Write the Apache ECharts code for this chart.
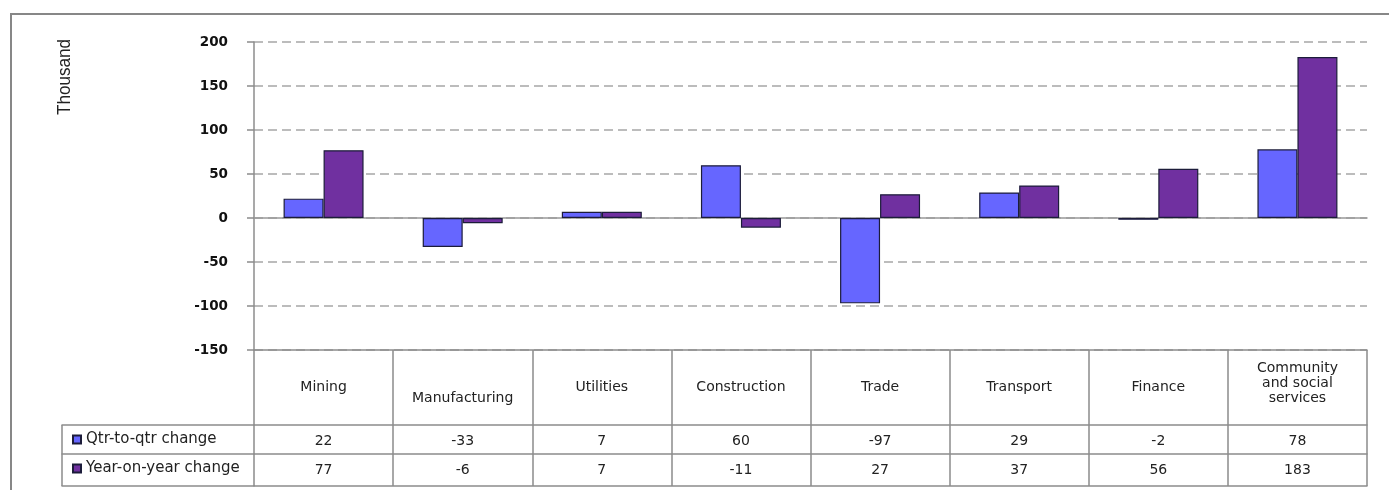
<!DOCTYPE html>
<html><head><meta charset="utf-8">
<script src="https://cdn.jsdelivr.net/npm/echarts@6/dist/echarts.min.js"></script>
<style>html,body{margin:0;padding:0;background:#fff}#c{width:1389px;height:490px}</style>
</head><body><div id="c"></div>
<script>
const categories = ['Mining','Manufacturing','Utilities','Construction','Trade','Transport','Finance','Community\nand social\nservices'];
const qtrChange = [22, -33, 7, 60, -97, 29, -2, 78];
const yearChange = [77, -6, 7, -11, 27, 37, 56, 183];
const seriesNames = ['Qtr-to-qtr change', 'Year-on-year change'];
const yMin = -150, yMax = 200, yStep = 50;
const unitLabel = 'Thousand';

const FONT = '"DejaVu Sans", sans-serif';
const GRAY = '#8c8c8c';
const chart = echarts.init(document.getElementById('c'), null, {renderer: 'canvas'});

const lineOnly = (gridIndex, offset, extra) => Object.assign({
  type: 'category', gridIndex, position: 'bottom', offset,
  data: gridIndex === 0 ? categories : [''],
  axisLine: {show: true, onZero: false, lineStyle: {color: GRAY, width: 1.5}},
  axisTick: {show: false}, axisLabel: {show: false}, splitLine: {show: false}
}, extra || {});

const headerFormatter = v => {
  if (v.indexOf('\n') >= 0) return v;
  if (v === 'Manufacturing') return '{low|' + v + '}';
  return '{one|' + v + '}';
};

const option = {
  animation: false,
  backgroundColor: '#fff',
  graphic: [
    {type: 'rect', shape: {x: 11, y: 14, width: 1420, height: 520}, style: {fill: 'none', stroke: '#878787', lineWidth: 2}, silent: true},
    {type: 'text', x: 65, y: 77, rotation: Math.PI / 2, scaleX: 0.9,
     style: {text: unitLabel, align: 'center', verticalAlign: 'middle', font: '19px "Liberation Sans Narrow", "Liberation Sans", sans-serif', fill: '#222'}}
  ],
  legend: {
    orient: 'vertical', left: 67, top: 426, itemWidth: 8, itemHeight: 8, itemGap: 12,
    icon: 'rect',
    textStyle: {fontFamily: FONT, fontSize: 15, color: '#222', lineHeight: 17},
    data: seriesNames
  },
  grid: [
    {left: 254, right: 22, top: 42, bottom: 140, outerBoundsMode: 'none', containLabel: false},
    {left: 62, width: 192, top: 42, bottom: 140, outerBoundsMode: 'none', containLabel: false}
  ],
  xAxis: [
    {type: 'category', gridIndex: 0, position: 'bottom', data: categories,
     axisLine: {show: true, onZero: true, lineStyle: {color: '#999', width: 1.5}},
     axisTick: {show: false}, axisLabel: {show: false}, splitLine: {show: false}},
    lineOnly(0, 0, {
      axisTick: {show: true, interval: 0, length: 136, lineStyle: {color: GRAY, width: 1.5}},
      axisLabel: {show: true, interval: 0, margin: 33, verticalAlign: 'middle', align: 'center',
        fontFamily: FONT, fontSize: 14, color: '#222', lineHeight: 15,
        formatter: headerFormatter,
        rich: {
          one: {padding: [8, 0, 0, 0], fontFamily: FONT, fontSize: 14, color: '#222'},
          low: {padding: [30, 0, 0, 0], fontFamily: FONT, fontSize: 14, color: '#222'}
        }}
    }),
    lineOnly(0, 75, {
      axisLabel: {show: true, interval: 0, margin: 16, verticalAlign: 'middle', align: 'center',
        fontFamily: FONT, fontSize: 14, color: '#222', formatter: (v, i) => String(qtrChange[i])}
    }),
    lineOnly(0, 104, {
      axisLabel: {show: true, interval: 0, margin: 16, verticalAlign: 'middle', align: 'center',
        fontFamily: FONT, fontSize: 14, color: '#222', formatter: (v, i) => String(yearChange[i])}
    }),
    lineOnly(0, 136),
    lineOnly(1, 75, {axisTick: {show: true, interval: 0, length: 61, lineStyle: {color: GRAY, width: 1.5}}}),
    lineOnly(1, 104),
    lineOnly(1, 136)
  ],
  yAxis: [
    {type: 'value', gridIndex: 0, min: yMin, max: yMax, interval: yStep,
     axisLine: {show: true, lineStyle: {color: GRAY, width: 1.5}},
     axisTick: {show: true, length: 7, lineStyle: {color: GRAY, width: 1.5}},
     axisLabel: {margin: 26, fontFamily: FONT, fontWeight: 'bold', fontSize: 13.5, color: '#111'},
     splitLine: {show: true, lineStyle: {color: '#a6a6a6', width: 1.5, type: [9, 5]}}},
    {type: 'value', gridIndex: 1, min: 0, max: 1, show: false}
  ],
  series: [
    {name: seriesNames[0], type: 'bar', xAxisIndex: 0, yAxisIndex: 0, data: qtrChange,
     barWidth: 40, barGap: '0%',
     itemStyle: {color: '#6666ff', borderColor: '#1c1c3a', borderWidth: 1.2}},
    {name: seriesNames[1], type: 'bar', xAxisIndex: 0, yAxisIndex: 0, data: yearChange,
     barWidth: 40, barGap: '0%',
     itemStyle: {color: '#7030a0', borderColor: '#1c1c3a', borderWidth: 1.2}}
  ]
};
chart.setOption(option);
</script>
</body></html>
